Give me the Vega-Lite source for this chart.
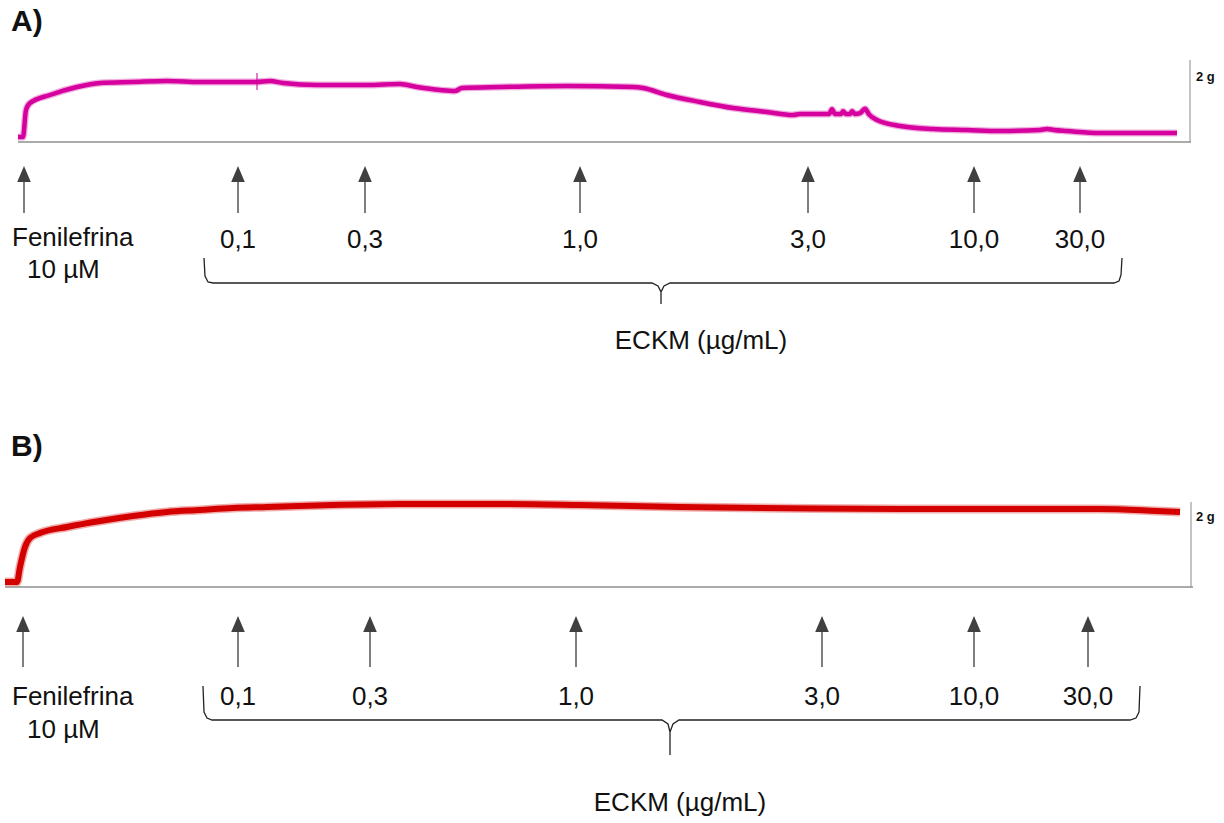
{
  "$schema": "https://vega.github.io/schema/vega-lite/v6.json",
  "padding": 0,
  "spacing": 0,
  "background": "white",
  "config": {"view": {"stroke": null}, "text": {"font": "Liberation Sans", "color": "#111111"}},
  "datasets": {
    "traceA": [
      {"t":0.9,"g":0.125},{"t":1.15,"g":0.125},{"t":1.3,"g":0.8},{"t":1.5,"g":0.975},{"t":2.5,"g":1.175},{"t":3.85,"g":1.375},{"t":5.0,"g":1.475},{"t":6.65,"g":1.5},{"t":8.35,"g":1.525},{"t":10.0,"g":1.5},{"t":11.65,"g":1.5},{"t":12.8,"g":1.5},{"t":13.5,"g":1.525},{"t":14.15,"g":1.475},{"t":15.85,"g":1.425},{"t":18.35,"g":1.425},{"t":20.0,"g":1.45},{"t":20.85,"g":1.375},{"t":22.0,"g":1.3},{"t":22.75,"g":1.275},{"t":23.1,"g":1.35},{"t":25.0,"g":1.375},{"t":28.35,"g":1.4},{"t":31.65,"g":1.375},{"t":32.15,"g":1.35},{"t":33.35,"g":1.175},{"t":35.0,"g":1.0},{"t":36.65,"g":0.85},{"t":38.35,"g":0.75},{"t":39.65,"g":0.675},{"t":40.0,"g":0.7},{"t":41.45,"g":0.7},{"t":41.6,"g":0.82},{"t":41.75,"g":0.7},{"t":42.05,"g":0.7},{"t":42.15,"g":0.77},{"t":42.3,"g":0.7},{"t":42.5,"g":0.7},{"t":42.6,"g":0.77},{"t":42.75,"g":0.7},{"t":43.0,"g":0.72},{"t":43.25,"g":0.83},{"t":43.45,"g":0.69},{"t":43.85,"g":0.55},{"t":45.0,"g":0.4},{"t":46.65,"g":0.325},{"t":48.35,"g":0.3},{"t":50.0,"g":0.275},{"t":52.0,"g":0.3},{"t":52.35,"g":0.325},{"t":52.7,"g":0.3},{"t":53.35,"g":0.275},{"t":55.0,"g":0.225},{"t":58.85,"g":0.225}
    ],
    "traceB": [
      {"t":0.25,"g":0.125},{"t":0.85,"g":0.125},{"t":1.0,"g":0.5},{"t":1.25,"g":1.0},{"t":1.5,"g":1.225},{"t":2.0,"g":1.35},{"t":3.35,"g":1.5},{"t":5.0,"g":1.65},{"t":6.65,"g":1.775},{"t":8.35,"g":1.875},{"t":10.0,"g":1.925},{"t":11.65,"g":1.975},{"t":13.35,"g":2.0},{"t":16.65,"g":2.05},{"t":20.0,"g":2.075},{"t":25.0,"g":2.075},{"t":29.0,"g":2.05},{"t":34.0,"g":2.0},{"t":40.65,"g":1.96},{"t":45.0,"g":1.95},{"t":50.0,"g":1.95},{"t":55.0,"g":1.95},{"t":57.85,"g":1.9},{"t":59.0,"g":1.875}
    ],
    "addsA": [
      {"t":1.2,"label":""},{"t":11.9,"label":"0,1"},{"t":18.25,"label":"0,3"},{"t":29.0,"label":"1,0"},{"t":40.4,"label":"3,0"},{"t":48.7,"label":"10,0"},{"t":54.0,"label":"30,0"}
    ],
    "addsB": [
      {"t":1.15,"label":""},{"t":11.9,"label":"0,1"},{"t":18.5,"label":"0,3"},{"t":28.8,"label":"1,0"},{"t":41.1,"label":"3,0"},{"t":48.7,"label":"10,0"},{"t":54.4,"label":"30,0"}
    ],
    "braceA": [
      {"o":1,"t":10.2,"g":-2.9},{"o":2,"t":10.25,"g":-3.35},{"o":3,"t":10.4,"g":-3.5},{"o":4,"t":10.65,"g":-3.525},{"o":5,"t":32.6,"g":-3.525},{"o":6,"t":32.9,"g":-3.6},{"o":7,"t":33.05,"g":-3.75},{"o":8,"t":33.05,"g":-4.05},{"o":9,"t":33.05,"g":-3.75},{"o":10,"t":33.2,"g":-3.6},{"o":11,"t":33.5,"g":-3.525},{"o":12,"t":55.7,"g":-3.525},{"o":13,"t":55.95,"g":-3.475},{"o":14,"t":56.05,"g":-3.325},{"o":15,"t":56.1,"g":-2.9}
    ],
    "braceB": [
      {"o":1,"t":10.15,"g":-2.475},{"o":2,"t":10.2,"g":-3.125},{"o":3,"t":10.35,"g":-3.275},{"o":4,"t":10.6,"g":-3.325},{"o":5,"t":33.1,"g":-3.325},{"o":6,"t":33.4,"g":-3.425},{"o":7,"t":33.5,"g":-3.625},{"o":8,"t":33.5,"g":-4.2},{"o":9,"t":33.5,"g":-3.625},{"o":10,"t":33.65,"g":-3.425},{"o":11,"t":33.95,"g":-3.325},{"o":12,"t":56.5,"g":-3.325},{"o":13,"t":56.8,"g":-3.275},{"o":14,"t":56.95,"g":-3.125},{"o":15,"t":57.0,"g":-2.475}
    ]
  },
  "vconcat": [
    {
      "width": 1224,
      "height": 412,
      "layer": [
        {"data": {"values": [{}]}, "mark": {"type": "rule", "color": "#ababab", "strokeWidth": 2},
         "encoding": {"x": {"datum": 0.9, "type": "quantitative", "scale": {"domain": [0, 61.2], "nice": false, "zero": false}, "axis": null}, "x2": {"datum": 59.55}, "y": {"datum": 0, "type": "quantitative", "scale": {"domain": [-6.75, 3.55], "nice": false, "zero": false}, "axis": null}}},
        {"data": {"values": [{}]}, "mark": {"type": "rule", "color": "#8a8a8a", "strokeWidth": 1},
         "encoding": {"x": {"datum": 59.5, "type": "quantitative", "scale": {"domain": [0, 61.2], "nice": false, "zero": false}, "axis": null}, "y": {"datum": 0, "type": "quantitative", "scale": {"domain": [-6.75, 3.55], "nice": false, "zero": false}, "axis": null}, "y2": {"datum": 2.05}}},
        {"data": {"name": "traceA"}, "mark": {"type": "line", "color": "#e46cc4", "opacity": 0.55, "strokeWidth": 7, "strokeJoin": "round", "interpolate": "monotone"},
         "encoding": {"x": {"field": "t", "type": "quantitative", "scale": {"domain": [0, 61.2], "nice": false, "zero": false}, "axis": null}, "y": {"field": "g", "type": "quantitative", "scale": {"domain": [-6.75, 3.55], "nice": false, "zero": false}, "axis": null}}},
        {"data": {"name": "traceA"}, "mark": {"type": "line", "color": "#d6009f", "strokeWidth": 4.5, "strokeJoin": "round", "interpolate": "monotone"},
         "encoding": {"x": {"field": "t", "type": "quantitative", "scale": {"domain": [0, 61.2], "nice": false, "zero": false}, "axis": null}, "y": {"field": "g", "type": "quantitative", "scale": {"domain": [-6.75, 3.55], "nice": false, "zero": false}, "axis": null}}},
        {"data": {"values": [{}]}, "mark": {"type": "rule", "color": "#c0008f", "strokeWidth": 1},
         "encoding": {"x": {"datum": 12.85, "type": "quantitative", "scale": {"domain": [0, 61.2], "nice": false, "zero": false}, "axis": null}, "y": {"datum": 1.3, "type": "quantitative", "scale": {"domain": [-6.75, 3.55], "nice": false, "zero": false}, "axis": null}, "y2": {"datum": 1.725}}},
        {"data": {"name": "addsA"}, "mark": {"type": "rule", "color": "#555555", "strokeWidth": 1.5},
         "encoding": {"x": {"field": "t", "type": "quantitative", "scale": {"domain": [0, 61.2], "nice": false, "zero": false}, "axis": null}, "y": {"datum": -0.9, "type": "quantitative", "scale": {"domain": [-6.75, 3.55], "nice": false, "zero": false}, "axis": null}, "y2": {"datum": -1.775}}},
        {"data": {"name": "addsA"}, "mark": {"type": "point", "shape": "M-0.85,1L0.85,1L0,-1Z", "size": 256, "filled": true, "opacity": 1, "color": "#404040", "strokeWidth": 0},
         "encoding": {"x": {"field": "t", "type": "quantitative", "scale": {"domain": [0, 61.2], "nice": false, "zero": false}, "axis": null}, "y": {"datum": -0.8, "type": "quantitative", "scale": {"domain": [-6.75, 3.55], "nice": false, "zero": false}, "axis": null}}},
        {"data": {"name": "addsA"}, "mark": {"type": "text", "fontSize": 26, "baseline": "middle", "align": "center"},
         "encoding": {"x": {"field": "t", "type": "quantitative", "scale": {"domain": [0, 61.2], "nice": false, "zero": false}, "axis": null}, "y": {"datum": -2.45, "type": "quantitative", "scale": {"domain": [-6.75, 3.55], "nice": false, "zero": false}, "axis": null}, "text": {"field": "label"}}},
        {"data": {"name": "braceA"}, "mark": {"type": "line", "color": "#222222", "strokeWidth": 1.3},
         "encoding": {"x": {"field": "t", "type": "quantitative", "scale": {"domain": [0, 61.2], "nice": false, "zero": false}, "axis": null}, "y": {"field": "g", "type": "quantitative", "scale": {"domain": [-6.75, 3.55], "nice": false, "zero": false}, "axis": null}, "order": {"field": "o"}}},
        {"data": {"values": [{}]}, "mark": {"type": "text", "text": "Fenilefrina", "fontSize": 26, "baseline": "middle", "align": "left"},
         "encoding": {"x": {"datum": 0.6, "type": "quantitative", "scale": {"domain": [0, 61.2], "nice": false, "zero": false}, "axis": null}, "y": {"datum": -2.4, "type": "quantitative", "scale": {"domain": [-6.75, 3.55], "nice": false, "zero": false}, "axis": null}}},
        {"data": {"values": [{}]}, "mark": {"type": "text", "text": "10 µM", "fontSize": 26, "baseline": "middle", "align": "left"},
         "encoding": {"x": {"datum": 1.35, "type": "quantitative", "scale": {"domain": [0, 61.2], "nice": false, "zero": false}, "axis": null}, "y": {"datum": -3.2, "type": "quantitative", "scale": {"domain": [-6.75, 3.55], "nice": false, "zero": false}, "axis": null}}},
        {"data": {"values": [{}]}, "mark": {"type": "text", "text": "ECKM (µg/mL)", "fontSize": 26, "baseline": "middle", "align": "center"},
         "encoding": {"x": {"datum": 35.05, "type": "quantitative", "scale": {"domain": [0, 61.2], "nice": false, "zero": false}, "axis": null}, "y": {"datum": -4.975, "type": "quantitative", "scale": {"domain": [-6.75, 3.55], "nice": false, "zero": false}, "axis": null}}},
        {"data": {"values": [{}]}, "mark": {"type": "text", "text": "2 g", "fontSize": 13, "fontWeight": "bold", "baseline": "middle", "align": "left"},
         "encoding": {"x": {"datum": 59.8, "type": "quantitative", "scale": {"domain": [0, 61.2], "nice": false, "zero": false}, "axis": null}, "y": {"datum": 1.625, "type": "quantitative", "scale": {"domain": [-6.75, 3.55], "nice": false, "zero": false}, "axis": null}}},
        {"data": {"values": [{}]}, "mark": {"type": "text", "text": "A)", "fontSize": 30, "fontWeight": "bold", "baseline": "middle", "align": "left"},
         "encoding": {"x": {"datum": 0.55, "type": "quantitative", "scale": {"domain": [0, 61.2], "nice": false, "zero": false}, "axis": null}, "y": {"datum": 3.0, "type": "quantitative", "scale": {"domain": [-6.75, 3.55], "nice": false, "zero": false}, "axis": null}}}
      ]
    },
    {
      "width": 1224,
      "height": 411,
      "layer": [
        {"data": {"values": [{}]}, "mark": {"type": "rule", "color": "#ababab", "strokeWidth": 2},
         "encoding": {"x": {"datum": 0.25, "type": "quantitative", "scale": {"domain": [0, 61.2], "nice": false, "zero": false}, "axis": null}, "x2": {"datum": 59.65}, "y": {"datum": 0, "type": "quantitative", "scale": {"domain": [-5.9, 4.375], "nice": false, "zero": false}, "axis": null}}},
        {"data": {"values": [{}]}, "mark": {"type": "rule", "color": "#8a8a8a", "strokeWidth": 1},
         "encoding": {"x": {"datum": 59.55, "type": "quantitative", "scale": {"domain": [0, 61.2], "nice": false, "zero": false}, "axis": null}, "y": {"datum": 0, "type": "quantitative", "scale": {"domain": [-5.9, 4.375], "nice": false, "zero": false}, "axis": null}, "y2": {"datum": 2.125}}},
        {"data": {"name": "traceB"}, "mark": {"type": "line", "color": "#e36a6a", "opacity": 0.55, "strokeWidth": 9, "strokeJoin": "round", "interpolate": "monotone"},
         "encoding": {"x": {"field": "t", "type": "quantitative", "scale": {"domain": [0, 61.2], "nice": false, "zero": false}, "axis": null}, "y": {"field": "g", "type": "quantitative", "scale": {"domain": [-5.9, 4.375], "nice": false, "zero": false}, "axis": null}}},
        {"data": {"name": "traceB"}, "mark": {"type": "line", "color": "#d40000", "strokeWidth": 6, "strokeJoin": "round", "interpolate": "monotone"},
         "encoding": {"x": {"field": "t", "type": "quantitative", "scale": {"domain": [0, 61.2], "nice": false, "zero": false}, "axis": null}, "y": {"field": "g", "type": "quantitative", "scale": {"domain": [-5.9, 4.375], "nice": false, "zero": false}, "axis": null}}},
        {"data": {"name": "addsB"}, "mark": {"type": "rule", "color": "#555555", "strokeWidth": 1.5},
         "encoding": {"x": {"field": "t", "type": "quantitative", "scale": {"domain": [0, 61.2], "nice": false, "zero": false}, "axis": null}, "y": {"datum": -1.0, "type": "quantitative", "scale": {"domain": [-5.9, 4.375], "nice": false, "zero": false}, "axis": null}, "y2": {"datum": -2.0}}},
        {"data": {"name": "addsB"}, "mark": {"type": "point", "shape": "M-0.85,1L0.85,1L0,-1Z", "size": 256, "filled": true, "opacity": 1, "color": "#404040", "strokeWidth": 0},
         "encoding": {"x": {"field": "t", "type": "quantitative", "scale": {"domain": [0, 61.2], "nice": false, "zero": false}, "axis": null}, "y": {"datum": -0.925, "type": "quantitative", "scale": {"domain": [-5.9, 4.375], "nice": false, "zero": false}, "axis": null}}},
        {"data": {"name": "addsB"}, "mark": {"type": "text", "fontSize": 26, "baseline": "middle", "align": "center"},
         "encoding": {"x": {"field": "t", "type": "quantitative", "scale": {"domain": [0, 61.2], "nice": false, "zero": false}, "axis": null}, "y": {"datum": -2.75, "type": "quantitative", "scale": {"domain": [-5.9, 4.375], "nice": false, "zero": false}, "axis": null}, "text": {"field": "label"}}},
        {"data": {"name": "braceB"}, "mark": {"type": "line", "color": "#222222", "strokeWidth": 1.3},
         "encoding": {"x": {"field": "t", "type": "quantitative", "scale": {"domain": [0, 61.2], "nice": false, "zero": false}, "axis": null}, "y": {"field": "g", "type": "quantitative", "scale": {"domain": [-5.9, 4.375], "nice": false, "zero": false}, "axis": null}, "order": {"field": "o"}}},
        {"data": {"values": [{}]}, "mark": {"type": "text", "text": "Fenilefrina", "fontSize": 26, "baseline": "middle", "align": "left"},
         "encoding": {"x": {"datum": 0.6, "type": "quantitative", "scale": {"domain": [0, 61.2], "nice": false, "zero": false}, "axis": null}, "y": {"datum": -2.75, "type": "quantitative", "scale": {"domain": [-5.9, 4.375], "nice": false, "zero": false}, "axis": null}}},
        {"data": {"values": [{}]}, "mark": {"type": "text", "text": "10 µM", "fontSize": 26, "baseline": "middle", "align": "left"},
         "encoding": {"x": {"datum": 1.35, "type": "quantitative", "scale": {"domain": [0, 61.2], "nice": false, "zero": false}, "axis": null}, "y": {"datum": -3.575, "type": "quantitative", "scale": {"domain": [-5.9, 4.375], "nice": false, "zero": false}, "axis": null}}},
        {"data": {"values": [{}]}, "mark": {"type": "text", "text": "ECKM (µg/mL)", "fontSize": 26, "baseline": "middle", "align": "center"},
         "encoding": {"x": {"datum": 34.0, "type": "quantitative", "scale": {"domain": [0, 61.2], "nice": false, "zero": false}, "axis": null}, "y": {"datum": -5.4, "type": "quantitative", "scale": {"domain": [-5.9, 4.375], "nice": false, "zero": false}, "axis": null}}},
        {"data": {"values": [{}]}, "mark": {"type": "text", "text": "2 g", "fontSize": 13, "fontWeight": "bold", "baseline": "middle", "align": "left"},
         "encoding": {"x": {"datum": 59.8, "type": "quantitative", "scale": {"domain": [0, 61.2], "nice": false, "zero": false}, "axis": null}, "y": {"datum": 1.75, "type": "quantitative", "scale": {"domain": [-5.9, 4.375], "nice": false, "zero": false}, "axis": null}}},
        {"data": {"values": [{}]}, "mark": {"type": "text", "text": "B)", "fontSize": 30, "fontWeight": "bold", "baseline": "middle", "align": "left"},
         "encoding": {"x": {"datum": 0.55, "type": "quantitative", "scale": {"domain": [0, 61.2], "nice": false, "zero": false}, "axis": null}, "y": {"datum": 3.5, "type": "quantitative", "scale": {"domain": [-5.9, 4.375], "nice": false, "zero": false}, "axis": null}}}
      ]
    }
  ]
}
